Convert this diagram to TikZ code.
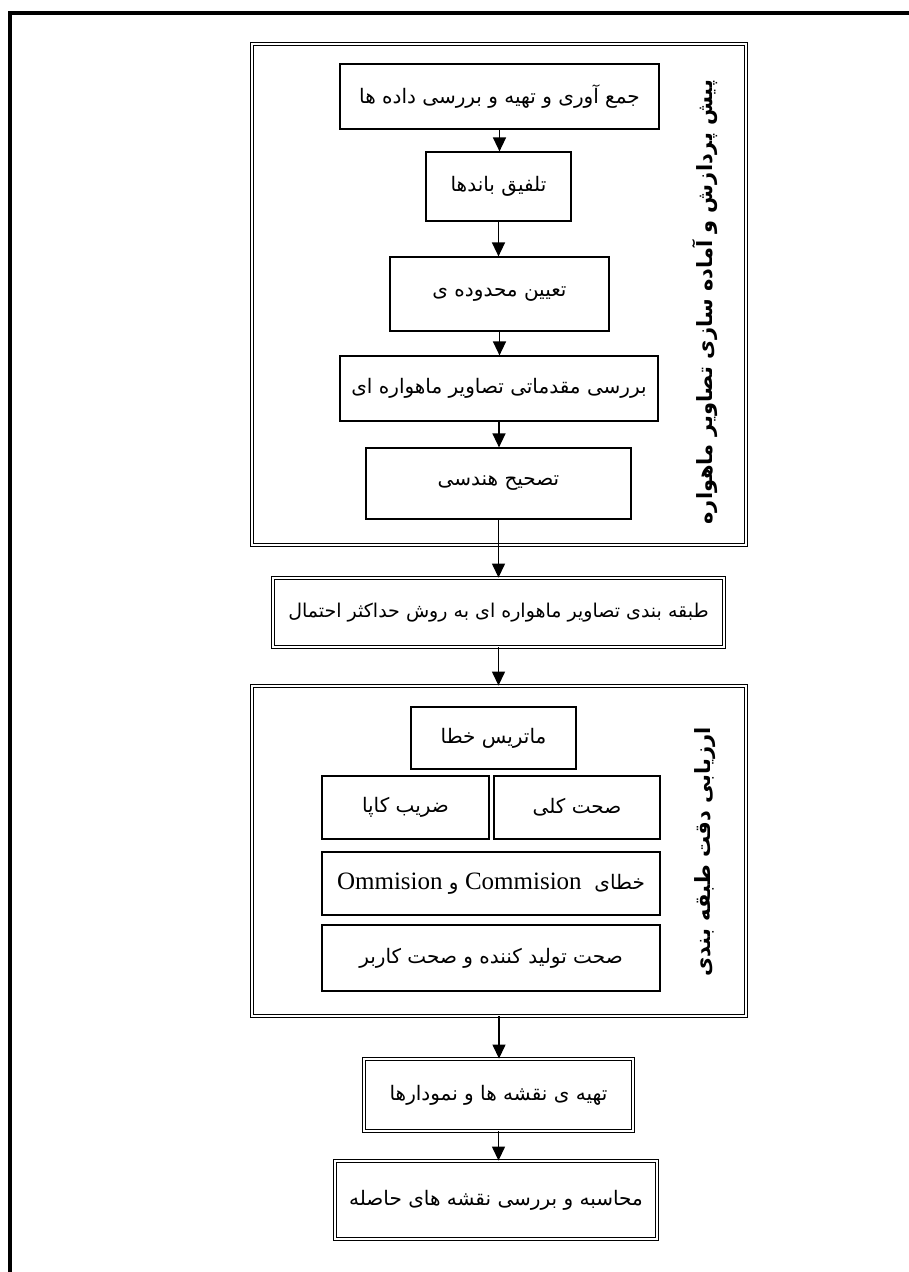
\documentclass[tikz,border=0pt]{standalone}
\usepackage{fontspec}
\usetikzlibrary{arrows.meta}
\TeXXeTstate=1
\newfontfamily\farsi[Script=Arabic]{DejaVu Sans}
\newfontfamily\latin{Liberation Serif}
\newcommand{\fatext}[1]{\beginR #1\endR}
\newcommand{\latword}[1]{\beginL{\latin\fontsize{25}{30}\selectfont #1}\endL{}}

\tikzset{
    stepbox/.style={draw, line width=1.2pt, inner sep=0pt,
        font=\farsi\fontsize{20}{24}\selectfont},
    dblbox/.style={stepbox, double, double distance=2pt, line width=0.9pt},
    stageframe/.style={draw, double, double distance=2pt, line width=0.9pt,
        inner sep=0pt},
    stagelabel/.style={rotate=90, font=\farsi\bfseries\fontsize{21}{25}\selectfont},
    flow/.style={-{Triangle[width=13pt,length=14pt]}, line width=1.4pt}
}

\begin{document}
\begin{tikzpicture}[x=1pt, y=-1pt]
    \useasboundingbox (0,0) rectangle (909,1272);
    % page border
    \draw[line width=4pt] (909,13) -- (10,13) -- (10,1272);

    % pre-processing stage
    \node[stageframe, minimum width=494pt, minimum height=501pt]
        (prepframe) at (499, 294.5) {};
    \node[stagelabel] (preplabel) at (705, 302)
        {\fatext{پیش پردازش و آماده سازی تصاویر ماهواره}};
    \node[stepbox, minimum width=319pt, minimum height=65pt]
        (collect) at (499.5, 96.5) {\fatext{جمع آوری و تهیه و بررسی داده ها}};
    \node[stepbox, minimum width=145pt, minimum height=69pt]
        (fuse) at (498.5, 186.5) {\fatext{تلفیق باندها}};
    \node[stepbox, minimum width=219pt, minimum height=74pt]
        (subset) at (499.5, 294) {\fatext{تعیین محدوده ی}};
    \node[stepbox, minimum width=318pt, minimum height=65pt]
        (inspect) at (499, 388.5) {\fatext{بررسی مقدماتی تصاویر ماهواره ای}};
    \node[stepbox, minimum width=265pt, minimum height=71pt]
        (georef) at (498.5, 483.5) {\fatext{تصحیح هندسی}};

    % classification
    \node[dblbox, minimum width=451pt, minimum height=69pt,
        font=\farsi\fontsize{19}{23}\selectfont]
        (classify) at (498.5, 612.5)
        {\fatext{طبقه بندی تصاویر ماهواره ای به روش حداکثر احتمال}};

    % accuracy assessment stage
    \node[stageframe, minimum width=494pt, minimum height=330pt]
        (evalframe) at (499, 851) {};
    \node[stagelabel] (evallabel) at (705, 852)
        {\fatext{ارزیابی دقت طبقه بندی}};
    \node[stepbox, minimum width=165pt, minimum height=62pt]
        (confusion) at (493.5, 738) {\fatext{ماتریس خطا}};
    \node[stepbox, minimum width=167pt, minimum height=63pt]
        (kappa) at (405.5, 807.5) {\fatext{ضریب کاپا}};
    \node[stepbox, minimum width=166pt, minimum height=63pt]
        (overall) at (577, 807.5) {\fatext{صحت کلی}};
    \node[stepbox, minimum width=338pt, minimum height=63pt]
        (errors) at (491, 883.5)
        {\fatext{خطای\ \ \latword{Commision} و \latword{Ommision}}};
    \node[stepbox, minimum width=338pt, minimum height=66pt]
        (useracc) at (491, 958) {\fatext{صحت تولید کننده و صحت کاربر}};

    % outputs
    \node[dblbox, minimum width=269pt, minimum height=72pt]
        (maps) at (498.5, 1095) {\fatext{تهیه ی نقشه ها و نمودارها}};
    \node[dblbox, minimum width=322pt, minimum height=78pt]
        (final) at (496, 1200) {\fatext{محاسبه و بررسی نقشه های حاصله}};

    % arrows
    \draw[flow] (collect.south) -- (collect.south |- fuse.north);
    \draw[flow] (fuse.south) -- (fuse.south |- subset.north);
    \draw[flow] (subset.south) -- (subset.south |- inspect.north);
    \draw[flow] (inspect.south) -- (inspect.south |- georef.north);
    \draw[flow] (georef.south) -- (georef.south |- classify.north);
    \draw[flow] (classify.south) -- (classify.south |- evalframe.north);
    \draw[flow] (evalframe.south) -- (evalframe.south |- maps.north);
    \draw[flow] (maps.south) -- (maps.south |- final.north);
\end{tikzpicture}
\end{document}
